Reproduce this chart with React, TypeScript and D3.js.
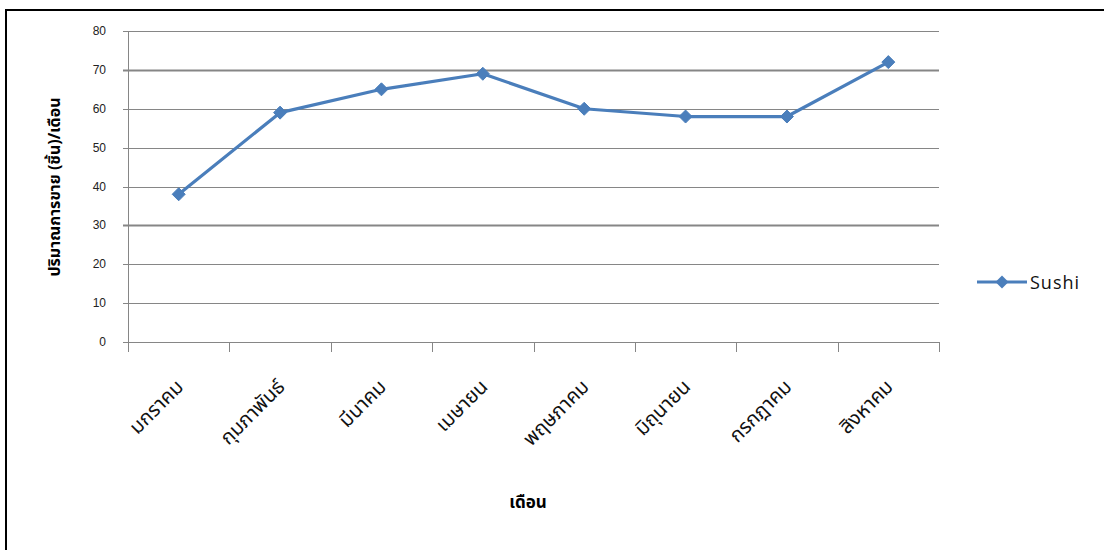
import React from "react";
import * as d3 from "d3";

const months = [
  "มกราคม",
  "กุมภาพันธ์",
  "มีนาคม",
  "เมษายน",
  "พฤษภาคม",
  "มิถุนายน",
  "กรกฎาคม",
  "สิงหาคม",
];
const sushiSales = [38, 59, 65, 69, 60, 58, 58, 72];
const yTicks = [0, 10, 20, 30, 40, 50, 60, 70, 80];
const seriesName = "Sushi";
const xTitle = "เดือน";
const yTitle = "ปริมาณการขาย (ชิ้น)/เดือน";

const W = 1104;
const H = 550;
const plot = { left: 128, right: 939, top: 31, bottom: 342 };
const lineColor = "#4A7EBB";
const gridColor = "#868686";
const thaiFont = "'Noto Sans Thai', Tahoma, 'Noto Sans', 'DejaVu Sans', sans-serif";

function diamond(cx: number, cy: number, r: number) {
  return `M${cx},${cy - r}L${cx + r},${cy}L${cx},${cy + r}L${cx - r},${cy}Z`;
}

export default function App() {
  const x = d3.scaleBand<string>().domain(months).range([plot.left, plot.right]);
  const y = d3.scaleLinear().domain([0, 80]).range([plot.bottom, plot.top]);
  const cx = (m: string) => (x(m) ?? 0) + x.bandwidth() / 2;

  const line = d3
    .line<number>()
    .x((_, i) => cx(months[i]))
    .y((d) => y(d));

  const boundaries = [...months.map((m) => x(m) ?? 0), plot.right];

  return (
    <svg
      width={W}
      height={H}
      style={{ position: "absolute", left: 0, top: 0, background: "#fff" }}
    >
      {/* outer chart frame (open to the right and bottom) */}
      <rect x={6} y={10} width={W + 20} height={H + 20} fill="none" stroke="#000" strokeWidth={2} />

      {/* horizontal gridlines */}
      {yTicks.map((t) => (
        <line
          key={`g${t}`}
          x1={plot.left - 5}
          x2={plot.right}
          y1={Math.round(y(t)) + 0.5}
          y2={Math.round(y(t)) + 0.5}
          stroke={gridColor}
          strokeWidth={t === 70 || t === 30 ? 2 : 1}
        />
      ))}

      {/* y axis */}
      <line x1={plot.left + 0.5} x2={plot.left + 0.5} y1={plot.top} y2={plot.bottom} stroke={gridColor} />
      {yTicks.map((t) => (
        <text
          key={`yl${t}`}
          x={106}
          y={y(t) + 4}
          textAnchor="end"
          fontFamily="'Liberation Sans', Arial, sans-serif"
          fontSize={12}
          fill="#222"
        >
          {t}
        </text>
      ))}

      {/* x axis ticks at category boundaries */}
      {boundaries.map((b, i) => (
        <line
          key={`xt${i}`}
          x1={Math.round(b) + 0.5}
          x2={Math.round(b) + 0.5}
          y1={plot.bottom}
          y2={plot.bottom + 10}
          stroke={gridColor}
          strokeWidth={1}
        />
      ))}

      {/* x category labels, rotated */}
      {months.map((m) => (
        <text
          key={`xl${m}`}
          transform={`translate(${cx(m) + 6},${plot.bottom + 46}) rotate(-45)`}
          textAnchor="end"
          fontFamily={thaiFont}
          fontSize={20}
          fill="#111"
        >
          {m}
        </text>
      ))}

      {/* series line */}
      <path d={line(sushiSales) ?? ""} fill="none" stroke={lineColor} strokeWidth={3.2} strokeLinejoin="round" />
      {sushiSales.map((v, i) => (
        <path key={`m${i}`} d={diamond(cx(months[i]), y(v), 6.5)} fill={lineColor} stroke={lineColor} strokeWidth={1} />
      ))}

      {/* axis titles */}
      <text
        x={528}
        y={508}
        textAnchor="middle"
        fontFamily={thaiFont}
        fontWeight="bold"
        fontSize={17}
        fill="#000"
      >
        {xTitle}
      </text>
      <text
        transform={`translate(60,187) rotate(-90)`}
        textAnchor="middle"
        fontFamily={thaiFont}
        fontWeight="bold"
        fontSize={16}
        fill="#000"
      >
        {yTitle}
      </text>

      {/* legend */}
      <line x1={977} x2={1027} y1={282} y2={282} stroke={lineColor} strokeWidth={3.2} />
      <path d={diamond(1002, 282, 6.5)} fill={lineColor} />
      <text
        x={1030}
        y={289}
        fontFamily="'Open Sans', 'Liberation Sans', sans-serif"
        fontSize={18}
        letterSpacing={1}
        fill="#111"
      >
        {seriesName}
      </text>
    </svg>
  );
}
